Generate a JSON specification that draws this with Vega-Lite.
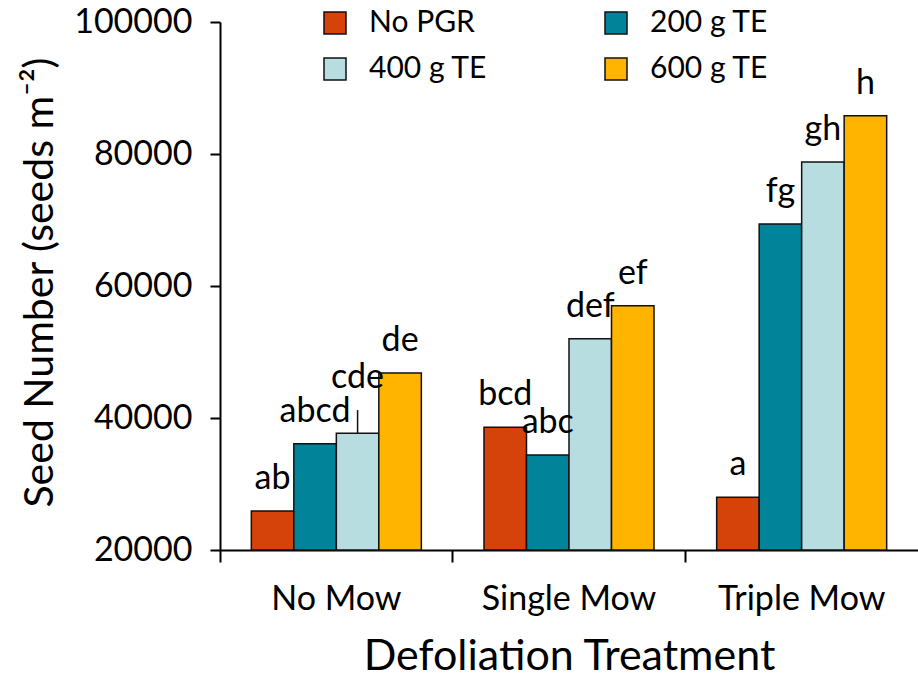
{
  "$schema": "https://vega.github.io/schema/vega-lite/v6.json",
  "autosize": {"type": "none"},
  "padding": {"left": 220, "top": 22, "right": 0, "bottom": 127},
  "width": 698,
  "height": 528,
  "background": "white",
  "config": {
    "font": "Lato",
    "view": {"stroke": null},
    "axis": {"labelFont": "Lato", "titleFont": "Lato", "labelColor": "black", "titleColor": "black", "domainColor": "black", "tickColor": "black", "titleFontWeight": "normal", "grid": false}
  },
  "data": {
    "values": [
      {"treatment": "No Mow", "pgr": "No PGR", "value": 25900, "letter": "ab"},
      {"treatment": "No Mow", "pgr": "200 g TE", "value": 36100, "letter": "abcd"},
      {"treatment": "No Mow", "pgr": "400 g TE", "value": 37700, "hi": 41200, "letter": "cde"},
      {"treatment": "No Mow", "pgr": "600 g TE", "value": 46800, "letter": "de"},
      {"treatment": "Single Mow", "pgr": "No PGR", "value": 38600, "letter": "bcd"},
      {"treatment": "Single Mow", "pgr": "200 g TE", "value": 34400, "letter": "abc"},
      {"treatment": "Single Mow", "pgr": "400 g TE", "value": 52000, "letter": "def"},
      {"treatment": "Single Mow", "pgr": "600 g TE", "value": 57000, "letter": "ef"},
      {"treatment": "Triple Mow", "pgr": "No PGR", "value": 28000, "letter": "a"},
      {"treatment": "Triple Mow", "pgr": "200 g TE", "value": 69400, "letter": "fg"},
      {"treatment": "Triple Mow", "pgr": "400 g TE", "value": 78800, "letter": "gh"},
      {"treatment": "Triple Mow", "pgr": "600 g TE", "value": 85800, "letter": "h"}
    ]
  },
  "encoding": {
    "x": {
      "field": "treatment", "type": "nominal", "sort": ["No Mow", "Single Mow", "Triple Mow"],
      "scale": {"paddingInner": 0, "paddingOuter": 0},
      "axis": {
        "title": "Defoliation Treatment", "titleFontSize": 43, "titleY": 119, "titleBaseline": "alphabetic",
        "labelAngle": 0, "labelFontSize": 34, "labelPadding": 20, "tickSize": 12, "tickWidth": 2, "domainWidth": 2,
        "bandPosition": 0
      }
    },
    "xOffset": {"field": "pgr", "type": "nominal", "sort": ["No PGR", "200 g TE", "400 g TE", "600 g TE"], "scale": {"paddingInner": 0, "paddingOuter": 0.737}}
  },
  "layer": [
    {
      "mark": {"type": "bar", "stroke": "#111111", "strokeWidth": 1.5},
      "encoding": {
        "y": {
          "field": "value", "type": "quantitative",
          "scale": {"domain": [20000, 100000], "zero": false, "nice": false},
          "axis": {
            "values": [20000, 40000, 60000, 80000, 100000], "format": "d",
            "title": "Seed Number (seeds m⁻²)", "titleFontSize": 41, "titleX": -180, "titleY": 260,
            "titleAlign": "center", "titleBaseline": "middle",
            "labelFontSize": 34, "labelPadding": 18, "tickSize": 10, "tickWidth": 2, "domainWidth": 2
          }
        },
        "y2": {"datum": 20000},
        "color": {
          "field": "pgr", "type": "nominal",
          "sort": ["No PGR", "200 g TE", "400 g TE", "600 g TE"],
          "scale": {"domain": ["No PGR", "200 g TE", "400 g TE", "600 g TE"], "range": ["#D5420A", "#01849A", "#B8DDE1", "#FFB400"]},
          "legend": {
            "title": null, "orient": "none", "legendX": 100, "legendY": -14, "columns": 2, "direction": "horizontal",
            "symbolType": "square", "symbolSize": 484, "symbolStrokeColor": "#111111", "symbolStrokeWidth": 1.5,
            "labelFont": "Lato", "labelFontSize": 30, "labelColor": "black", "labelOffset": 19,
            "columnPadding": 113, "rowPadding": 16
          }
        }
      }
    },
    {
      "transform": [{"filter": "isValid(datum.hi)"}],
      "mark": {"type": "rule", "color": "#111111", "strokeWidth": 1.5},
      "encoding": {"y": {"field": "value", "type": "quantitative"}, "y2": {"field": "hi"}}
    },
    {
      "transform": [{"calculate": "isValid(datum.hi) ? datum.hi : datum.value", "as": "labelY"}],
      "mark": {"type": "text", "fontSize": 34, "font": "Lato", "baseline": "alphabetic", "dy": -22, "color": "black"},
      "encoding": {"y": {"field": "labelY", "type": "quantitative"}, "text": {"field": "letter"}}
    }
  ]
}
